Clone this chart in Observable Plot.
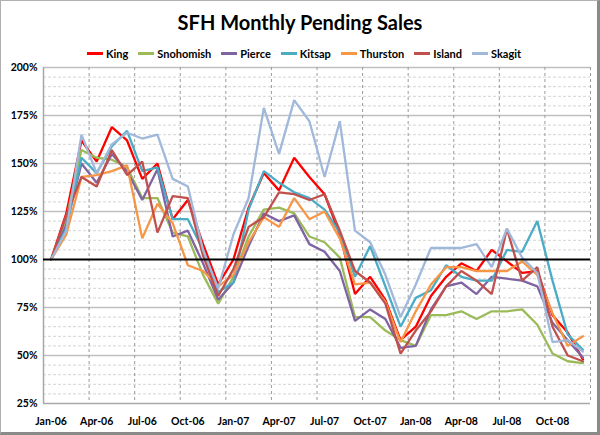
<!DOCTYPE html>
<html><head><meta charset="utf-8">
<script src="https://cdn.jsdelivr.net/npm/d3@7"></script>
<script src="https://cdn.jsdelivr.net/npm/@observablehq/plot@0.6"></script>
<style>
body{margin:0;background:#fff;font-family:Lato,"Open Sans",sans-serif;}
#wrap{position:relative;width:600px;height:435px;overflow:hidden;background:#fff;}
#frame{position:absolute;left:0;top:0;width:600px;height:435px;border:1px solid #b0b0b0;border-right:3px solid #8a8a8a;border-bottom:3px solid #8a8a8a;box-sizing:border-box;pointer-events:none;}
#title{position:absolute;top:10px;left:0;width:600px;text-align:center;font-weight:bold;font-size:20px;color:#000;}
#legend{position:absolute;top:47px;left:4px;width:600px;display:flex;justify-content:center;font-size:11px;font-weight:bold;color:#000;}
.item{display:flex;align-items:center;margin:0 5px;}
.sw{display:inline-block;width:16px;height:3px;margin-right:3px;}
#chart{position:absolute;left:0;top:0;}
</style>
</head><body>
<div id="wrap">
<div id="chart"></div>
<div id="title">SFH Monthly Pending Sales</div>
<div id="legend"></div>
<div id="frame"></div>
</div>
<script>
const months = ["Jan-06","Feb-06","Mar-06","Apr-06","May-06","Jun-06","Jul-06","Aug-06","Sep-06","Oct-06","Nov-06","Dec-06",
"Jan-07","Feb-07","Mar-07","Apr-07","May-07","Jun-07","Jul-07","Aug-07","Sep-07","Oct-07","Nov-07","Dec-07",
"Jan-08","Feb-08","Mar-08","Apr-08","May-08","Jun-08","Jul-08","Aug-08","Sep-08","Oct-08","Nov-08","Dec-08"];
const tickLabels = ["Jan-06","Apr-06","Jul-06","Oct-06","Jan-07","Apr-07","Jul-07","Oct-07","Jan-08","Apr-08","Jul-08","Oct-08"];
const yTicks = [25,50,75,100,125,150,175,200];
const seriesNames = ["King","Snohomish","Pierce","Kitsap","Thurston","Island","Skagit"];
const seriesColors = ["#FF0000","#9BBB59","#8064A2","#4BACC6","#F79646","#C0504D","#A0B8DA"];

const king      = [100,124,162,151,169,162,142,150,121,131,108,87,100,127,145,136,153,143,134,113,82,91,79,58,65,81,91,98,94,105,99,93,94,71,62,48];
const snohomish = [100,121,157,153,152,148,132,132,114,112,92,77,91,112,126,127,124,112,109,101,70,70,63,58,55,71,71,73,69,73,73,74,66,51,47,46];
const pierce    = [100,118,150,140,155,146,131,147,112,115,98,79,88,107,124,120,123,108,104,94,68,74,69,54,55,74,86,88,82,91,90,89,86,67,58,49];
const kitsap    = [100,116,153,145,159,167,146,148,121,121,105,83,88,126,146,140,135,132,126,114,91,107,86,65,80,84,97,91,89,89,105,104,120,89,61,53];
const thurston  = [100,113,143,144,146,149,111,129,119,97,94,86,92,109,122,117,132,121,125,111,87,88,78,57,73,87,96,96,94,94,94,99,92,72,55,60];
const island    = [100,123,143,138,157,144,151,114,133,132,102,81,95,117,122,135,134,131,134,115,94,88,77,51,63,73,86,94,89,82,116,89,96,65,50,47];
const skagit    = [100,115,165,145,160,166,163,165,142,138,105,85,113,132,179,155,183,172,143,172,115,109,92,70,87,106,106,106,108,96,116,101,93,57,58,52];

const seriesValues = [king,snohomish,pierce,kitsap,thurston,island,skagit];

const rows = [];
seriesNames.forEach((s,k)=>seriesValues[k].forEach((v,i)=>rows.push({series:s,i,month:months[i],v})));

const tickIdx = tickLabels.map(l=>months.indexOf(l));
const boundaries = tickIdx.slice(1).map(i=>i-0.5).concat([months.length-0.5]);
const minor = d3.range(25,201,5).filter(v=>v%25!==0);
const major = yTicks.filter(v=>v!==100 && v!==25);

const chart = Plot.plot({
  width:600, height:435,
  marginLeft:43, marginRight:10, marginTop:67, marginBottom:32,
  style:{fontFamily:"Lato, 'Open Sans', sans-serif", fontSize:"10.5px", fontWeight:"bold", color:"#000", background:"transparent"},
  x:{domain:[-0.5, months.length-0.5], label:null},
  y:{domain:[25,200], label:null},
  color:{domain:seriesNames, range:seriesColors},
  marks:[
    Plot.ruleY(minor,{stroke:"#d4d4d4",strokeDasharray:"3,2",strokeWidth:1}),
    Plot.ruleY(major,{stroke:"#c0c0c0",strokeWidth:1.5}),
    Plot.ruleX(boundaries,{stroke:"#9a9a9a",strokeDasharray:"3,3",strokeWidth:1}),
    Plot.ruleX([-0.5],{stroke:"#a8a8a8",strokeWidth:1.5}),
    Plot.ruleY([25],{stroke:"#a8a8a8",strokeWidth:1.5}),
    Plot.line(rows,{x:"i",y:"v",z:"series",stroke:"series",strokeWidth:2.3,strokeLinejoin:"miter"}),
    Plot.ruleY([100],{stroke:"#000",strokeWidth:2.2}),
    Plot.axisX({ticks:tickIdx, tickFormat:i=>months[i], tickSize:0, tickPadding:14, label:null}),
    Plot.axisY({ticks:yTicks, tickFormat:d=>d+"%", tickSize:0, tickPadding:6, label:null})
  ]
});
document.getElementById("chart").appendChild(chart);

const leg = document.getElementById("legend");
seriesNames.forEach((s,k)=>{
  const it=document.createElement("div"); it.className="item";
  const sw=document.createElement("span"); sw.className="sw"; sw.style.background=seriesColors[k];
  const t=document.createElement("span"); t.textContent=s;
  it.appendChild(sw); it.appendChild(t); leg.appendChild(it);
});
</script>
</body></html>
